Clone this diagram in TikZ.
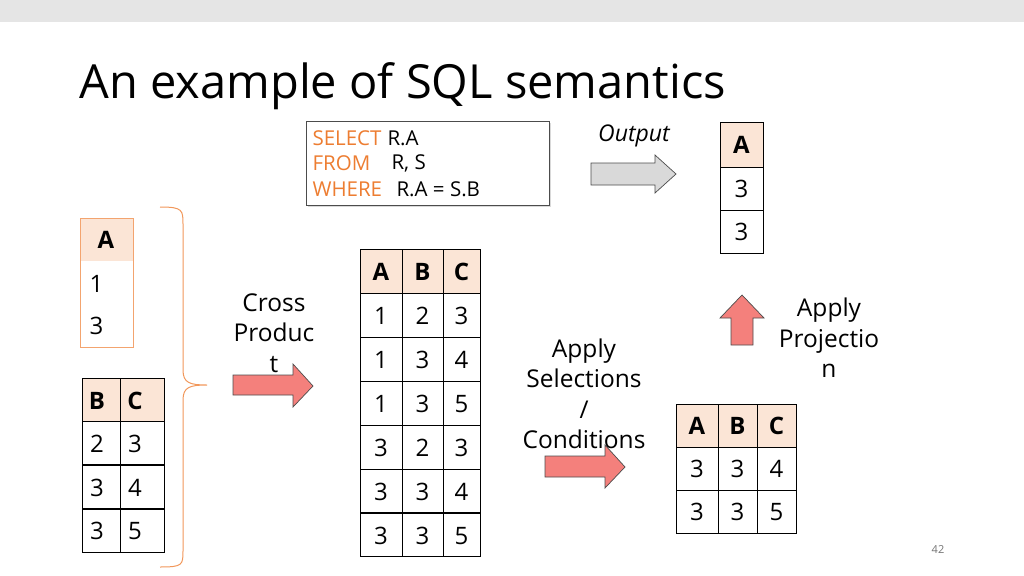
\documentclass[tikz,border=0pt]{standalone}
\usepackage{fontspec}
\setmainfont{Open Sans}
\usetikzlibrary{shadows}
\definecolor{peach}{HTML}{FBE5D6}
\definecolor{org}{HTML}{ED7D31}
\definecolor{sal}{HTML}{F4807C}
\begin{document}
\begin{tikzpicture}[x=1pt,y=-1pt,
 cell/.style={draw=black,line width=0.8pt},
 hd/.style={cell,fill=peach},
 tx/.style={font=\fontsize{24}{26}\selectfont,anchor=center},
 lbl/.style={font=\fontsize{24.5}{30.5}\selectfont,align=center},
 arr/.style={draw=black!70,line width=0.7pt,fill=sal,line join=miter}]
\useasboundingbox (0,0) rectangle (1024,575);
\fill[black!10] (0,0) rectangle (1024,22);
\node[anchor=west,font=\fontsize{47}{50}\selectfont] (title) at (76,86) {An example of SQL semantics};
% SQL box
\node[draw=black!70,fill=white,drop shadow={opacity=0.3,shadow xshift=2pt,shadow yshift=-2pt},minimum width=243pt,minimum height=84pt,anchor=north west] (sql) at (306,121) {};
\begin{scope}[font=\fontsize{20.5}{22}\selectfont]
\node[anchor=west,text=org] (s1) at (309,138) {SELECT};
\node[anchor=west] (s1b) at (384,138) {R.A};
\node[anchor=west,text=org] (s2) at (309,163) {FROM};
\node[anchor=west] (s2b) at (388,163) {R, S};
\node[anchor=west,text=org] (s3) at (309,189) {WHERE};
\node[anchor=west] (s3b) at (393,189) {R.A = S.B};
\end{scope}
% output arrow
\draw[arr,fill=black!15] (591,163) -- (655,163) -- (655,155) -- (676,174) -- (655,193) -- (655,185) -- (591,185) -- cycle;
\node[font=\fontsize{23}{24}\selectfont\itshape] (out) at (634,136) {Output};
% output table
\draw[hd] (720,122) rectangle (763,167);
\draw[cell] (720,167) rectangle (763,210) (720,210) rectangle (763,253);
\node[tx,font=\fontsize{24}{26}\selectfont\bfseries] (o0) at (741.5,145) {A};
\node[tx] (o1) at (741.5,189) {3};
\node[tx] (o2) at (741.5,232) {3};
% R table
\fill[peach] (80,218) rectangle (133,261);
\draw[org!70,line width=0.8pt] (80,218) rectangle (133,347);
\node[tx,font=\fontsize{24}{26}\selectfont\bfseries] (ra) at (106,240) {A};
\node[tx,anchor=west] (r1) at (86,284) {1};
\node[tx,anchor=west] (r2) at (86,326) {3};
% S table
\draw[hd] (82,378) rectangle (120,421) (120,378) rectangle (164,421);
\foreach \y in {421,465,509}{\draw[cell] (82,\y) rectangle (120,\y+43) (120,\y) rectangle (164,\y+43);}
\node[tx,font=\fontsize{24}{26}\selectfont\bfseries] (sb) at (97,401) {B};
\node[tx,font=\fontsize{24}{26}\selectfont\bfseries] (sc) at (135,401) {C};
\foreach \a/\b/\y [count=\i] in {2/3/444,3/4/488,3/5/531}{
 \node[tx] (sl\i) at (97,\y) {\a}; \node[tx] (sr\i) at (135,\y) {\b};}
% brace
\draw[org!80,line width=1pt] (160,207) .. controls (183,207) and (183,210) .. (183,225) -- (183,370) .. controls (183,383) and (190,385) .. (207,385) .. controls (190,385) and (183,387) .. (183,400) -- (183,550) .. controls (183,565) and (183,567) .. (160,567);
% cross product
\node[lbl] (cp) at (274,333) {Cross\\Produc\\t};
\draw[arr] (233,375) -- (293,375) -- (293,364) -- (313,386) -- (293,407) -- (293,395) -- (233,395) -- cycle;
% big table
\foreach \x/\w in {360/42,402/41,443/37}{\draw[hd] (\x,249) rectangle +(\w,44);}
\foreach \y in {293,337,381,425,469,512}{\foreach \x/\w in {360/42,402/41,443/37}{\draw[cell] (\x,\y) rectangle +(\w,44);}}
\node[tx,font=\fontsize{24}{26}\selectfont\bfseries] (ba) at (381,272) {A};
\node[tx,font=\fontsize{24}{26}\selectfont\bfseries] (bb) at (422.5,272) {B};
\node[tx,font=\fontsize{24}{26}\selectfont\bfseries] (bc) at (461.5,272) {C};
\foreach \a/\b/\c [count=\i] in {1/2/3,1/3/4,1/3/5,3/2/3,3/3/4,3/3/5}{
 \node[tx] (bx\i) at (381,272+44*\i) {\a};
 \node[tx] (by\i) at (422.5,272+44*\i) {\b};
 \node[tx] (bz\i) at (461.5,272+44*\i) {\c};}
% selections
\node[lbl] (sel) at (584,394) {Apply\\Selections\\/\\Conditions};
\draw[arr] (545,456) -- (605,456) -- (605,445) -- (625,467) -- (605,488) -- (605,477) -- (545,477) -- cycle;
% result table
\foreach \x/\w in {676/42,718/39,757/39}{\draw[hd] (\x,404) rectangle +(\w,43);
 \draw[cell] (\x,447) rectangle +(\w,43) (\x,490) rectangle +(\w,43);}
\node[tx,font=\fontsize{24}{26}\selectfont\bfseries] (ca) at (697,426) {A};
\node[tx,font=\fontsize{24}{26}\selectfont\bfseries] (cb) at (737.5,426) {B};
\node[tx,font=\fontsize{24}{26}\selectfont\bfseries] (cc) at (776.5,426) {C};
\foreach \a/\b/\c [count=\i] in {3/3/4,3/3/5}{
 \node[tx] (cx\i) at (697,426+43*\i) {\a};
 \node[tx] (cy\i) at (737.5,426+43*\i) {\b};
 \node[tx] (cz\i) at (776.5,426+43*\i) {\c};}
% projection
\draw[arr] (731,345) -- (731,318) -- (720,318) -- (742,295) -- (764,318) -- (753,318) -- (753,345) -- cycle;
\node[lbl] (proj) at (829,338) {Apply\\Projectio\\n};
\node[font=\fontsize{11}{12}\selectfont,text=black!55] (pg) at (938,550) {42};
\end{tikzpicture}
\end{document}
